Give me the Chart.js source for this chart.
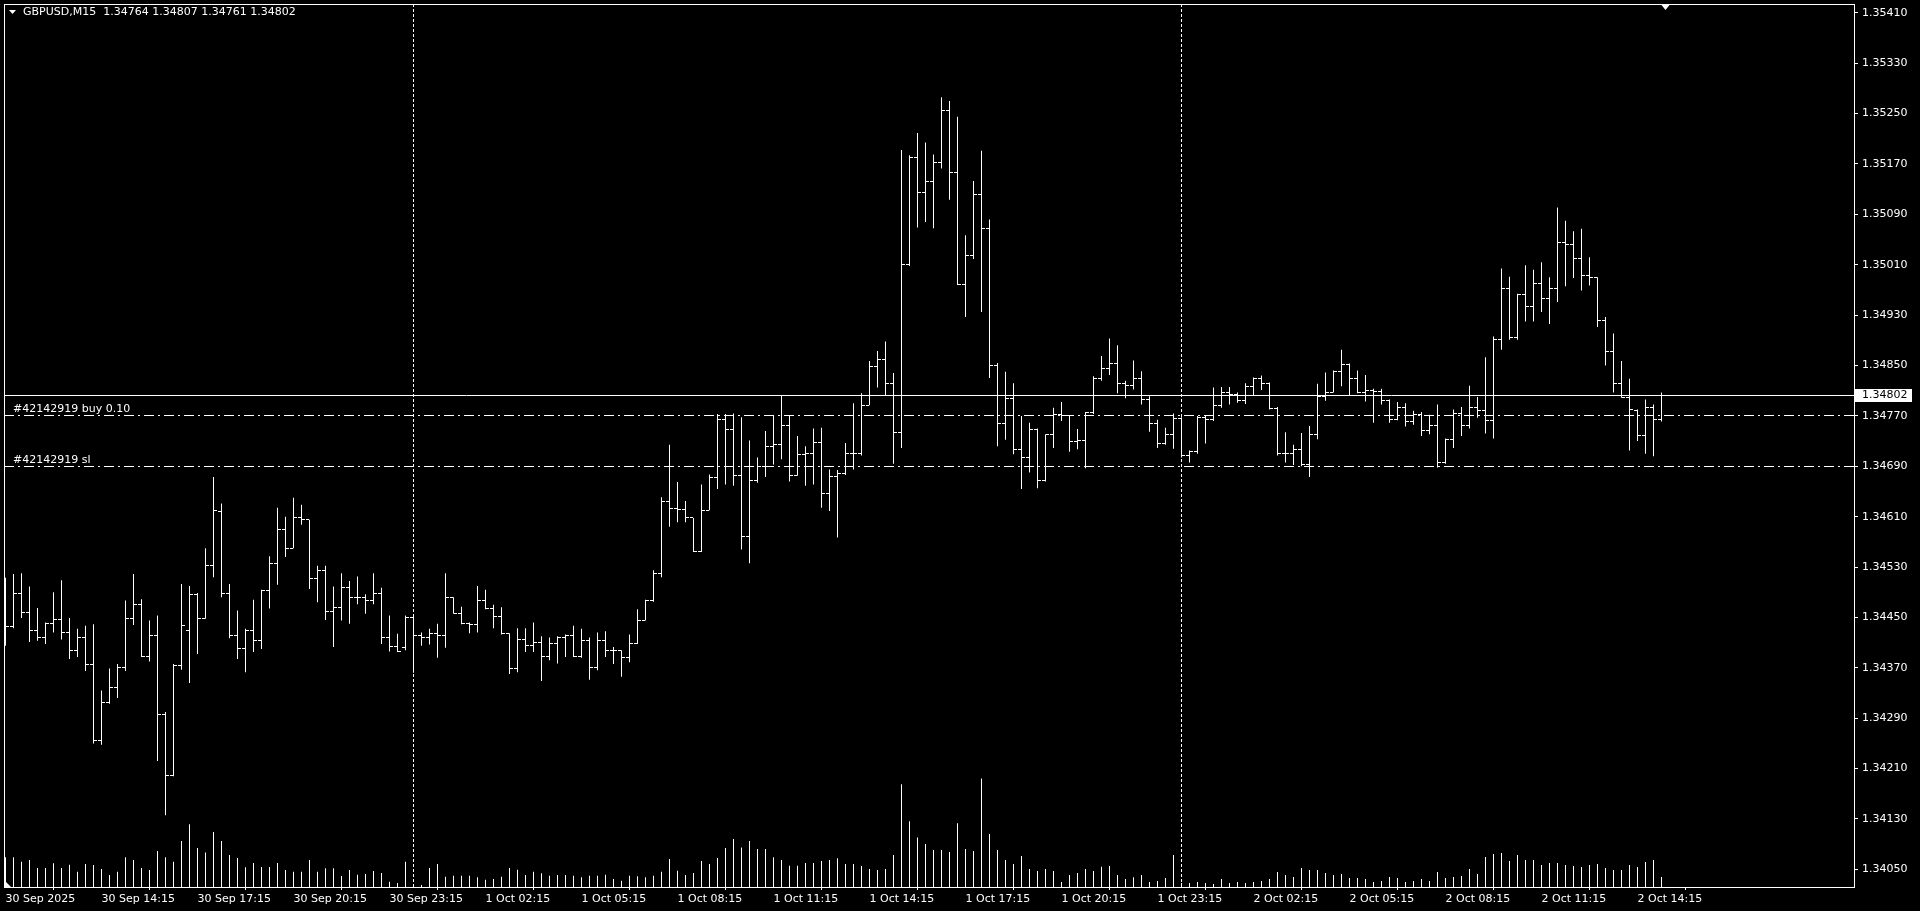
<!DOCTYPE html>
<html><head><meta charset="utf-8">
<script src="https://cdn.jsdelivr.net/npm/chart.js@4.4.1/dist/chart.umd.min.js"></script>
<style>html,body{margin:0;padding:0;background:#000;overflow:hidden}#wrap{width:1920px;height:911px;position:relative}</style>
</head><body><div id="wrap"><canvas id="c"></canvas></div>
<script>
const symbol = 'GBPUSD,M15';
const startTime = '2025-09-30T11:15:00Z';
const barMinutes = 15;

const opens = [
1.34445,1.34436,1.34488,1.34458,1.34429,1.34418,1.34441,1.34446,1.34426,1.34397,
1.34418,1.34376,1.34254,1.34315,1.34338,1.34371,1.34449,1.34471,1.34388,1.34422,
1.34296,1.34199,1.34374,1.34430,1.34487,1.34449,1.34532,1.34618,1.34488,1.34421,
1.34400,1.34430,1.34413,1.34492,1.34535,1.34590,1.34560,1.34608,1.34605,1.34512,
1.34525,1.34459,1.34466,1.34497,1.34482,1.34481,1.34477,1.34488,1.34418,1.34404,
1.34403,1.34450,1.34421,1.34418,1.34425,1.34422,1.34482,1.34457,1.34440,1.34439,
1.34477,1.34464,1.34452,1.34425,1.34369,1.34415,1.34406,1.34410,1.34388,1.34408,
1.34418,1.34421,1.34388,1.34413,1.34371,1.34414,1.34398,1.34397,1.34386,1.34408,
1.34445,1.34477,1.34520,1.34634,1.34623,1.34622,1.34608,1.34555,1.34620,1.34672,
1.34765,1.34749,1.34675,1.34578,1.34667,1.34689,1.34722,1.34724,1.34754,1.34676,
1.34709,1.34710,1.34727,1.34646,1.34673,1.34678,1.34711,1.34710,1.34787,1.34849,
1.34860,1.34821,1.34744,1.35011,1.35181,1.35124,1.35142,1.35172,1.35255,1.35156,
1.34979,1.35024,1.35122,1.35068,1.34850,1.34758,1.34798,1.34717,1.34704,1.34749,
1.34667,1.34740,1.34773,1.34770,1.34730,1.34731,1.34775,1.34830,1.34845,1.34853,
1.34821,1.34818,1.34830,1.34796,1.34758,1.34726,1.34740,1.34766,1.34707,1.34714,
1.34768,1.34765,1.34786,1.34807,1.34804,1.34795,1.34816,1.34830,1.34822,1.34781,
1.34710,1.34711,1.34716,1.34693,1.34741,1.34801,1.34807,1.34840,1.34851,1.34829,
1.34807,1.34810,1.34809,1.34795,1.34765,1.34783,1.34761,1.34772,1.34747,1.34755,
1.34696,1.34732,1.34774,1.34754,1.34784,1.34778,1.34762,1.34891,1.34972,1.34894,
1.34963,1.34943,1.34980,1.34956,1.34973,1.35046,1.35042,1.35020,1.34993,1.34989,
1.34921,1.34872,1.34821,1.34800,1.34778,1.34739,1.34783,1.34764];

const highs = [
1.34513,1.34519,1.34520,1.34499,1.34465,1.34442,1.34490,1.34509,1.34449,1.34432,
1.34437,1.34439,1.34334,1.34369,1.34376,1.34477,1.34519,1.34479,1.34445,1.34453,
1.34300,1.34376,1.34503,1.34500,1.34489,1.34560,1.34673,1.34631,1.34503,1.34461,
1.34432,1.34478,1.34494,1.34547,1.34624,1.34610,1.34640,1.34629,1.34605,1.34532,
1.34532,1.34499,1.34520,1.34508,1.34515,1.34487,1.34520,1.34497,1.34453,1.34424,
1.34453,1.34453,1.34426,1.34432,1.34440,1.34520,1.34482,1.34467,1.34442,1.34500,
1.34494,1.34470,1.34466,1.34425,1.34433,1.34433,1.34442,1.34420,1.34418,1.34420,
1.34423,1.34437,1.34432,1.34418,1.34426,1.34428,1.34403,1.34398,1.34423,1.34463,
1.34478,1.34525,1.34641,1.34724,1.34665,1.34635,1.34608,1.34661,1.34677,1.34773,
1.34773,1.34774,1.34768,1.34731,1.34704,1.34746,1.34770,1.34802,1.34771,1.34738,
1.34722,1.34750,1.34751,1.34685,1.34684,1.34727,1.34790,1.34806,1.34857,1.34873,
1.34888,1.34838,1.35192,1.35184,1.35219,1.35204,1.35185,1.35276,1.35270,1.35245,
1.35057,1.35143,1.35191,1.35082,1.34854,1.34840,1.34822,1.34770,1.34759,1.34750,
1.34741,1.34783,1.34792,1.34770,1.34749,1.34776,1.34833,1.34865,1.34893,1.34882,
1.34826,1.34858,1.34841,1.34801,1.34764,1.34751,1.34774,1.34768,1.34715,1.34770,
1.34770,1.34815,1.34816,1.34816,1.34807,1.34822,1.34831,1.34834,1.34823,1.34784,
1.34744,1.34724,1.34743,1.34754,1.34821,1.34839,1.34842,1.34875,1.34853,1.34842,
1.34835,1.34813,1.34813,1.34796,1.34792,1.34790,1.34778,1.34776,1.34772,1.34788,
1.34734,1.34780,1.34784,1.34818,1.34800,1.34863,1.34896,1.35004,1.34991,1.34964,
1.35009,1.35002,1.35014,1.34990,1.35101,1.35080,1.35063,1.35067,1.35022,1.34990,
1.34927,1.34901,1.34857,1.34829,1.34780,1.34796,1.34788,1.34807];

const lows = [
1.34405,1.34433,1.34449,1.34411,1.34413,1.34408,1.34426,1.34415,1.34384,1.34387,
1.34365,1.34250,1.34248,1.34313,1.34322,1.34365,1.34438,1.34387,1.34380,1.34222,
1.34136,1.34198,1.34367,1.34346,1.34392,1.34448,1.34514,1.34482,1.34417,1.34384,
1.34363,1.34395,1.34400,1.34464,1.34502,1.34546,1.34560,1.34597,1.34495,1.34474,
1.34446,1.34403,1.34445,1.34440,1.34471,1.34456,1.34471,1.34408,1.34396,1.34395,
1.34398,1.34362,1.34405,1.34407,1.34386,1.34402,1.34456,1.34439,1.34425,1.34426,
1.34463,1.34433,1.34423,1.34360,1.34363,1.34395,1.34395,1.34349,1.34382,1.34377,
1.34387,1.34387,1.34386,1.34351,1.34366,1.34387,1.34376,1.34356,1.34379,1.34408,
1.34445,1.34475,1.34514,1.34594,1.34601,1.34601,1.34554,1.34554,1.34620,1.34654,
1.34661,1.34659,1.34558,1.34536,1.34664,1.34673,1.34693,1.34701,1.34666,1.34675,
1.34659,1.34661,1.34624,1.34619,1.34577,1.34676,1.34685,1.34707,1.34787,1.34815,
1.34802,1.34694,1.34719,1.35008,1.35069,1.35078,1.35068,1.35163,1.35113,1.34978,
1.34927,1.35019,1.34935,1.34830,1.34722,1.34732,1.34709,1.34654,1.34680,1.34655,
1.34666,1.34719,1.34762,1.34713,1.34717,1.34687,1.34773,1.34826,1.34835,1.34806,
1.34798,1.34812,1.34788,1.34745,1.34719,1.34724,1.34718,1.34704,1.34696,1.34710,
1.34726,1.34762,1.34783,1.34788,1.34791,1.34789,1.34802,1.34811,1.34780,1.34707,
1.34696,1.34692,1.34690,1.34673,1.34733,1.34794,1.34807,1.34817,1.34803,1.34806,
1.34793,1.34759,1.34788,1.34759,1.34763,1.34753,1.34756,1.34738,1.34741,1.34688,
1.34694,1.34719,1.34738,1.34750,1.34767,1.34742,1.34734,1.34875,1.34891,1.34891,
1.34920,1.34920,1.34935,1.34916,1.34951,1.34976,1.34989,1.34969,1.34977,1.34911,
1.34850,1.34807,1.34799,1.34715,1.34730,1.34710,1.34706,1.34761];

const closes = [
1.34436,1.34488,1.34458,1.34429,1.34418,1.34441,1.34446,1.34426,1.34397,1.34418,
1.34376,1.34254,1.34315,1.34338,1.34371,1.34449,1.34471,1.34388,1.34422,1.34296,
1.34199,1.34374,1.34437,1.34487,1.34449,1.34532,1.34620,1.34488,1.34421,1.34400,
1.34430,1.34413,1.34492,1.34535,1.34590,1.34560,1.34608,1.34605,1.34512,1.34525,
1.34459,1.34466,1.34498,1.34482,1.34481,1.34477,1.34488,1.34418,1.34404,1.34396,
1.34450,1.34421,1.34418,1.34425,1.34422,1.34482,1.34457,1.34440,1.34439,1.34477,
1.34464,1.34452,1.34425,1.34369,1.34415,1.34406,1.34410,1.34388,1.34408,1.34418,
1.34421,1.34388,1.34413,1.34371,1.34414,1.34398,1.34397,1.34386,1.34408,1.34445,
1.34477,1.34520,1.34634,1.34623,1.34622,1.34608,1.34555,1.34620,1.34672,1.34765,
1.34749,1.34675,1.34578,1.34667,1.34689,1.34722,1.34724,1.34754,1.34676,1.34709,
1.34710,1.34727,1.34646,1.34673,1.34678,1.34711,1.34710,1.34787,1.34849,1.34860,
1.34821,1.34744,1.35011,1.35181,1.35124,1.35142,1.35172,1.35255,1.35156,1.34979,
1.35024,1.35122,1.35068,1.34850,1.34758,1.34798,1.34717,1.34704,1.34749,1.34667,
1.34740,1.34773,1.34770,1.34730,1.34731,1.34775,1.34830,1.34845,1.34853,1.34821,
1.34818,1.34830,1.34796,1.34758,1.34726,1.34740,1.34766,1.34707,1.34714,1.34768,
1.34765,1.34786,1.34807,1.34804,1.34795,1.34816,1.34830,1.34822,1.34781,1.34710,
1.34711,1.34716,1.34693,1.34741,1.34801,1.34807,1.34840,1.34851,1.34829,1.34807,
1.34810,1.34809,1.34795,1.34765,1.34783,1.34761,1.34772,1.34747,1.34755,1.34696,
1.34732,1.34774,1.34754,1.34784,1.34778,1.34762,1.34891,1.34972,1.34894,1.34963,
1.34943,1.34980,1.34956,1.34973,1.35046,1.35042,1.35020,1.34993,1.34989,1.34921,
1.34872,1.34821,1.34800,1.34780,1.34739,1.34783,1.34764,1.34802];

const volumes = [
297,297,253,270,190,190,237,190,223,153,
230,220,180,120,153,297,270,190,170,360,
297,253,460,630,390,347,550,460,320,290,
197,240,200,200,240,170,153,153,270,153,
187,187,110,170,123,130,160,140,53,40,
253,30,20,190,230,103,113,113,113,97,
73,80,103,190,173,120,153,137,113,120,
120,113,97,113,113,123,80,63,113,107,
97,113,153,280,163,120,140,260,230,290,
390,480,397,460,380,380,297,270,213,213,
240,240,260,270,287,230,230,210,180,170,
180,320,1030,660,497,430,370,370,350,640,
380,360,1087,530,370,270,230,310,180,160,
180,160,50,120,140,180,160,203,210,120,
80,97,120,50,60,90,320,40,40,50,
40,30,80,40,50,40,50,60,80,150,
120,100,190,170,170,140,120,130,90,90,
80,50,60,100,90,50,60,80,60,150,
90,100,110,180,130,300,330,340,260,320,
270,270,220,240,240,220,210,200,220,230,
190,170,170,220,200,250,270,100];

const priceTicks = [1.34050,1.34130,1.34210,1.34290,1.34370,1.34450,1.34530,1.34610,1.34690,
                    1.34770,1.34850,1.34930,1.35010,1.35090,1.35170,1.35250,1.35330,1.35410];
const timeLabels = ['30 Sep 2025','30 Sep 14:15','30 Sep 17:15','30 Sep 20:15','30 Sep 23:15',
  '1 Oct 02:15','1 Oct 05:15','1 Oct 08:15','1 Oct 11:15','1 Oct 14:15','1 Oct 17:15',
  '1 Oct 20:15','1 Oct 23:15','2 Oct 02:15','2 Oct 05:15','2 Oct 08:15','2 Oct 11:15','2 Oct 14:15'];
const timeLabelStep = 12;

const orderTicket = '#42142919';
const orderLots = '0.10';
const buyPrice = 1.34770;
const slPrice = 1.34690;

// ---------- build ----------
const FONT = 'DejaVu Sans';
const n = closes.length;
const idx = closes.map((_, i) => i);
const hlData = idx.map(i => ({x: i, y: [lows[i], highs[i]]}));
const openData = idx.map(i => ({x: i, y: opens[i]}));
const closeData = idx.map(i => ({x: i, y: closes[i]}));
const volData = idx.map(i => ({x: i, y: volumes[i]}));
const t0 = Date.parse(startTime);
const separators = idx.filter(i => {
  const d = new Date(t0 + i * barMinutes * 60000);
  return d.getUTCHours() === 0 && d.getUTCMinutes() === 0;
});

function tickImage(side) {
  const c = document.createElement('canvas');
  c.width = 7; c.height = 1;
  const g = c.getContext('2d');
  g.fillStyle = '#ffffff';
  g.fillRect(side === 'left' ? 0 : 4, 0, 3, 1);
  return c;
}
const openImg = tickImage('left');
const closeImg = tickImage('right');

const mtPlugin = {
  id: 'mt4',
  beforeDraw(chart) {
    const c = chart.ctx;
    c.save(); c.fillStyle = '#000'; c.fillRect(0, 0, chart.width, chart.height); c.restore();
  },
  beforeDatasetsDraw(chart) {
    const c = chart.ctx, a = chart.chartArea, xs = chart.scales.x;
    c.save();
    c.strokeStyle = '#ffffff'; c.lineWidth = 1; c.setLineDash([3, 2]);
    separators.forEach(i => {
      const x = Math.floor(xs.getPixelForValue(i)) + 0.5;
      c.beginPath(); c.moveTo(x, a.top); c.lineTo(x, a.bottom); c.stroke();
    });
    c.restore();
    c.imageSmoothingEnabled = false;
  },
  afterDatasetsDraw(chart) {
    const c = chart.ctx, a = chart.chartArea, ys = chart.scales.y;
    c.save();
    c.strokeStyle = '#ffffff'; c.lineWidth = 1;
    const hline = (p, dash) => {
      const y = Math.floor(ys.getPixelForValue(p)) + 0.5;
      c.setLineDash(dash);
      c.beginPath(); c.moveTo(a.left, y); c.lineTo(a.right, y); c.stroke();
      return y;
    };
    const yb = hline(buyPrice, [10, 4, 2, 4]);
    const ysl = hline(slPrice, [10, 4, 2, 4]);
    hline(closes[n - 1], []);   // bid line
    c.setLineDash([]);
    c.fillStyle = '#ffffff';
    c.font = '11px "' + FONT + '"';
    c.textBaseline = 'alphabetic'; c.textAlign = 'left';
    c.fillText(orderTicket + ' buy ' + orderLots, a.left + 9, yb - 4);
    c.fillText(orderTicket + ' sl', a.left + 9, ysl - 4);
    c.restore();
  },
  afterDraw(chart) {
    const c = chart.ctx, a = chart.chartArea, ys = chart.scales.y, xs = chart.scales.x;
    c.save();
    c.imageSmoothingEnabled = true;
    c.strokeStyle = '#ffffff'; c.lineWidth = 1; c.setLineDash([]);
    c.strokeRect(a.left + 0.5, a.top + 0.5, a.right - a.left, a.bottom - a.top);
    // bid label box
    const last = n - 1;
    const yb = ys.getPixelForValue(closes[last]);
    c.fillStyle = '#ffffff';
    c.fillRect(a.right + 1, Math.round(yb) - 7, 57, 13);
    c.fillStyle = '#000000';
    c.font = '11px "' + FONT + '"';
    c.textBaseline = 'middle'; c.textAlign = 'left';
    c.fillText(closes[last].toFixed(5), a.right + 8, Math.round(yb) - 0.5);
    // header
    c.fillStyle = '#ffffff';
    c.beginPath(); c.moveTo(9, 10); c.lineTo(16, 10); c.lineTo(12.5, 14); c.closePath(); c.fill();
    c.fillText(symbol + '  ' + opens[last].toFixed(5) + ' ' + highs[last].toFixed(5) + ' ' +
      lows[last].toFixed(5) + ' ' + closes[last].toFixed(5), 23, 12.5);
    // shift marker (top) and scale marker (bottom-left)
    const xm = xs.getPixelForValue(last + 0.5);
    c.beginPath(); c.moveTo(xm - 4, a.top + 1); c.lineTo(xm + 4, a.top + 1); c.lineTo(xm, a.top + 6); c.closePath(); c.fill();
    c.beginPath(); c.moveTo(a.left + 1, a.bottom - 6); c.lineTo(a.left + 1, a.bottom); c.lineTo(a.left + 7, a.bottom); c.closePath(); c.fill();
    c.restore();
  }
};

new Chart(document.getElementById('c'), {
  type: 'bar',
  data: { datasets: [
    { label: 'Volume', data: volData, yAxisID: 'yv', backgroundColor: '#ffffff',
      barThickness: 1, maxBarThickness: 1, grouped: false, inflateAmount: 0, order: 4 },
    { label: 'High-Low', data: hlData, yAxisID: 'y', backgroundColor: '#ffffff',
      barThickness: 1, maxBarThickness: 1, grouped: false, inflateAmount: 0, order: 3 },
    { type: 'scatter', label: 'Open', data: openData, yAxisID: 'y',
      pointStyle: openImg, pointRadius: 3, pointHoverRadius: 3, pointHitRadius: 0, order: 2 },
    { type: 'scatter', label: 'Close', data: closeData, yAxisID: 'y',
      pointStyle: closeImg, pointRadius: 3, pointHoverRadius: 3, pointHitRadius: 0, order: 1 }
  ]},
  options: {
    animation: false, responsive: true, maintainAspectRatio: false, devicePixelRatio: 1,
    events: [],
    layout: { padding: { left: 4, top: 2, right: 0, bottom: 0 } },
    plugins: { legend: { display: false }, tooltip: { enabled: false }, title: { display: false } },
    scales: {
      x: {
        type: 'linear', min: -0.1875, max: 231.0625, offset: false, position: 'bottom',
        grid: { display: true, drawOnChartArea: false, drawTicks: true, tickLength: 3, color: '#ffffff', lineWidth: 1 },
        border: { display: true, color: '#ffffff', width: 1 },
        ticks: { autoSkip: false, maxRotation: 0, minRotation: 0, align: 'start', padding: 3,
          color: '#ffffff', font: { family: FONT, size: 11 },
          callback: (v) => timeLabels[Math.round(v / timeLabelStep)] },
        afterBuildTicks: (s) => { s.ticks = timeLabels.map((_, k) => ({ value: k * timeLabelStep })); },
        afterFit: (s) => { s.height = 24; s.paddingLeft = 0; s.paddingRight = 0; }
      },
      y: {
        type: 'linear', position: 'right', min: 1.34022, max: 1.35424,
        grid: { display: true, drawOnChartArea: false, drawTicks: true, tickLength: 4, color: '#ffffff', lineWidth: 1 },
        border: { display: true, color: '#ffffff', width: 1 },
        ticks: { color: '#ffffff', padding: 4, font: { family: FONT, size: 11 },
          callback: (v) => Number(v).toFixed(5) },
        afterBuildTicks: (s) => { s.ticks = priceTicks.map(v => ({ value: v })); },
        afterFit: (s) => { s.width = 66; s.paddingTop = 0; s.paddingBottom = 0; }
      },
      yv: { type: 'linear', display: false, min: 0, max: 8850 }
    }
  },
  plugins: [mtPlugin]
});
</script>
</body></html>
